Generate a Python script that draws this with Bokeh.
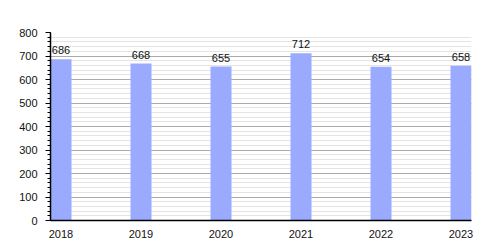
from bokeh.plotting import figure
from bokeh.models import ColumnDataSource, FixedTicker, SingleIntervalTicker, Range1d
from bokeh.core.properties import value
from bokeh.embed import file_html
from bokeh.resources import INLINE

years = ["2018", "2019", "2020", "2021", "2022", "2023"]
values = [686, 668, 655, 712, 654, 658]

xs = list(range(len(years)))
src = ColumnDataSource(dict(x=xs, top=values, label=[str(v) for v in values]))

p = figure(width=500, height=250, output_backend="svg", toolbar_location=None,
           x_range=Range1d(-0.13125, len(years) - 1 + 0.13125), y_range=Range1d(0, 800),
           min_border_left=50, min_border_right=29, min_border_top=32, min_border_bottom=30)
p.outline_line_color = None
p.background_fill_color = "white"
p.border_fill_color = "white"

p.vbar(x="x", top="top", width=0.2625, bottom=0, source=src,
       fill_color="#99AAFF", line_color=None)
p.text(x="x", y="top", text="label", source=src, text_align="center",
       text_baseline="bottom", y_offset=-5, text_font=value("Liberation Sans"),
       text_font_size="11px", text_color="#111111")

# y axis
p.yaxis.ticker = SingleIntervalTicker(interval=100, num_minor_ticks=5)
p.yaxis.axis_line_color = "black"
p.yaxis.axis_line_width = 1.5
p.yaxis.major_tick_out = 5
p.yaxis.major_tick_in = 0
p.yaxis.minor_tick_out = 3
p.yaxis.minor_tick_in = 0
p.yaxis.major_tick_line_color = "black"
p.yaxis.minor_tick_line_color = "black"
p.yaxis.major_label_standoff = 8
p.yaxis.major_label_text_font = "Liberation Sans"
p.yaxis.major_label_text_font_size = "11px"
p.yaxis.major_label_text_color = "#111111"

# x axis
p.xaxis.ticker = FixedTicker(ticks=xs)
p.xaxis.major_label_overrides = {i: y for i, y in zip(xs, years)}
p.xaxis.axis_line_color = "black"
p.xaxis.axis_line_width = 1.5
p.xaxis.major_tick_line_color = None
p.xaxis.minor_tick_line_color = None
p.xaxis.major_label_standoff = 3
p.xaxis.major_label_text_font = "Liberation Sans"
p.xaxis.major_label_text_font_size = "11px"
p.xaxis.major_label_text_color = "#111111"

p.xgrid.grid_line_color = None
p.ygrid.grid_line_color = "#aaaaaa"
p.ygrid.minor_grid_line_color = "#e4e4e4"

open("out.html", "w").write(file_html(p, INLINE))
